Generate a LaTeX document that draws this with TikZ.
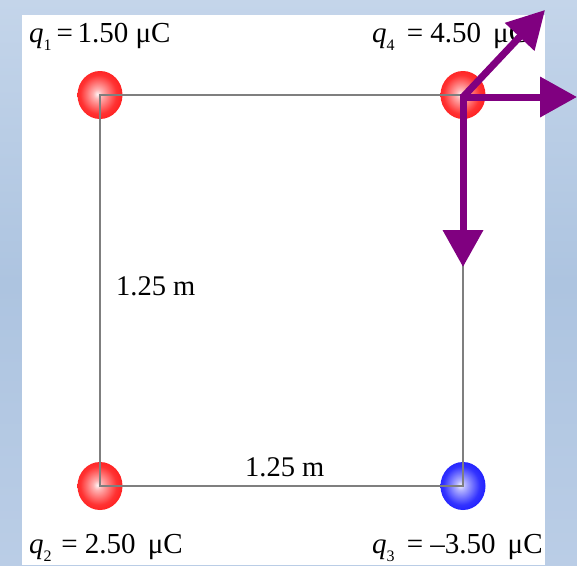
\documentclass[tikz,border=0pt]{standalone}
\usepackage{fontspec}
\setmainfont{Liberation Serif}
\usetikzlibrary{arrows.meta,shapes.geometric}
\definecolor{bgtop}{HTML}{C4D5EA}
\definecolor{bgmid}{HTML}{ADC4E0}
\definecolor{bgbot}{HTML}{BACDE6}
\definecolor{vecpurple}{HTML}{800080}
\definecolor{edgegray}{HTML}{7F7F7F}
\pgfdeclareradialshading{redsphere}{\pgfpoint{-3bp}{1bp}}{color(0bp)=(white!95!red); color(5bp)=(white!70!red); color(20bp)=(red!80!white); color(38bp)=(red); color(50bp)=(red!92!black)}
\pgfdeclareradialshading{bluesphere}{\pgfpoint{-3bp}{1bp}}{color(0bp)=(white!95!blue); color(5bp)=(white!70!blue); color(20bp)=(blue!80!white); color(38bp)=(blue); color(50bp)=(blue!92!black)}
\newcommand{\qsym}[1]{{\itshape q}\raisebox{-0.28em}{\fontsize{16}{16}\selectfont #1}}
\begin{document}
\begin{tikzpicture}[x=1pt,y=-1pt,
  sphere/.style={ellipse,minimum width=45pt,minimum height=48pt,inner sep=0pt},
  redq/.style={sphere,shading=redsphere},
  blueq/.style={sphere,shading=bluesphere},
  side/.style={draw=edgegray,line width=2.5pt},
  chargelab/.style={anchor=base west,inner sep=0pt,font=\fontsize{29}{32}\selectfont},
  lenlab/.style={anchor=base west,inner sep=0pt,font=\fontsize{28.5}{32}\selectfont},
  vec/.style={draw=vecpurple,line width=7pt,-{Triangle[length=37pt,width=39pt]}}]
\useasboundingbox (0,0) rectangle (577,565);
\shade[top color=bgtop,bottom color=bgbot,middle color=bgmid] (0,0) rectangle (577,565);
\fill[white] (22,15) rectangle (545,565);
% charges
\node[redq]  (q1) at (100,95)  {};
\node[redq]  (q2) at (100,486) {};
\node[blueq] (q3) at (463,486) {};
\node[redq]  (q4) at (463,95)  {};
% square
\draw[side] (q1.center) -- (q4.center) -- (q3.center) -- (q2.center) -- cycle;
% labels
\node[chargelab] (l1) at (29,42)  {\qsym{1}\,=\,1.50\ μC};
\node[chargelab] (l4) at (372,42) {\qsym{4}\ \,=\ 4.50\ \,μC};
\node[chargelab] (l2) at (29,553) {\qsym{2}\,\,=\ 2.50\ \,μC};
\node[chargelab] (l3) at (372,553) {\qsym{3}\ \,=\ –3.50\ \,μC};
\node[lenlab] (s1) at (116,295) {1.25 m};
\node[lenlab] (s2) at (245,476) {1.25 m};
% force vectors
\coordinate (o) at (463,97);
\coordinate (tipE) at (577,97);
\coordinate (tipS) at (463,267);
\coordinate (tipNE) at (545,10);
\draw[vec,line cap=rect] (o) -- (tipS);
\draw[vec,line cap=rect] (o) -- (tipE);
\draw[vec] (o) -- (tipNE);
\end{tikzpicture}
\end{document}
